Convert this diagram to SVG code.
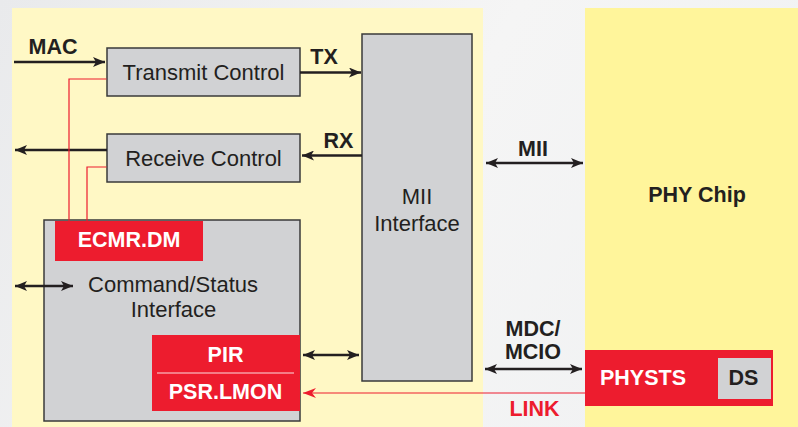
<svg xmlns="http://www.w3.org/2000/svg" width="798" height="427" viewBox="0 0 798 427">
  <defs>
    <linearGradient id="bg" x1="0" y1="0" x2="1" y2="0.3">
      <stop offset="0" stop-color="#e9eaec"/>
      <stop offset="0.6" stop-color="#f5f5f5"/>
      <stop offset="1" stop-color="#f1f2f3"/>
    </linearGradient>
    <marker id="ah" markerUnits="userSpaceOnUse" markerWidth="13" markerHeight="10" refX="12" refY="5" orient="auto-start-reverse" viewBox="0 0 13 10">
      <path d="M0,0 L12,5 L0,10 L3,5 z" fill="#231f20"/>
    </marker>
    <marker id="ahr" markerUnits="userSpaceOnUse" markerWidth="14" markerHeight="10" refX="13" refY="5" orient="auto-start-reverse" viewBox="0 0 14 10">
      <path d="M0,0 L13,5 L0,10 L4,5 z" fill="#ed1c2e"/>
    </marker>
  </defs>
  <style>
    .box { fill: #d1d2d4; stroke: #3a3a3a; stroke-width: 1.5; }
    .red { fill: #ed1c2e; }
    .t { font-family: "Liberation Sans", Arial, sans-serif; font-size: 22px; fill: #231f20; text-anchor: middle; }
    .b { font-family: "Liberation Sans", Arial, sans-serif; font-size: 21.5px; font-weight: bold; fill: #231f20; text-anchor: middle; }
    .w { fill: #ffffff; }
    .rt { fill: #ed1c2e; }
    .arr { stroke: #231f20; stroke-width: 2.5; fill: none; }
    .rl { stroke: #ed1c2e; stroke-width: 1.2; fill: none; }
  </style>

  <rect x="0" y="0" width="798" height="427" fill="url(#bg)"/>
  <rect id="panel-left" x="12" y="8" width="471" height="419" fill="#fff8c5"/>
  <rect id="panel-phy" x="585" y="8" width="213" height="419" fill="#fff59b"/>

  <g id="transmit-control">
    <rect class="box" x="107" y="48" width="193" height="48"/>
    <text class="t" x="203.5" y="80">Transmit Control</text>
  </g>
  <g id="receive-control">
    <rect class="box" x="107" y="134" width="193" height="48"/>
    <text class="t" x="203.5" y="166">Receive Control</text>
  </g>
  <g id="mii-interface">
    <rect class="box" x="362" y="34" width="110" height="347"/>
    <text class="t" x="417" y="204">MII</text>
    <text class="t" x="417" y="231">Interface</text>
  </g>
  <g id="command-status">
    <rect class="box" x="44" y="220" width="256" height="201"/>
    <text class="t" x="173" y="292">Command/Status</text>
    <text class="t" x="173.5" y="317">Interface</text>
  </g>
  <g id="ecmr-dm">
    <rect class="red" x="55" y="221" width="148" height="40"/>
    <text class="b w" x="129" y="247" font-size="22">ECMR.DM</text>
  </g>
  <g id="pir-psr">
    <rect class="red" x="152" y="335" width="148" height="76"/>
    <line x1="157" y1="373" x2="294" y2="373" stroke="#ffffff" stroke-width="1.2" opacity="0.85"/>
    <text class="b w" x="225.5" y="362">PIR</text>
    <text class="b w" x="225.5" y="399" font-size="22">PSR.LMON</text>
  </g>
  <g id="physts">
    <rect class="red" x="585" y="350" width="188" height="56"/>
    <rect x="718" y="358" width="53" height="41" fill="#d1d2d4"/>
    <text class="b w" x="643" y="385">PHYSTS</text>
    <text class="b" x="743.5" y="385">DS</text>
  </g>

  <g id="connectors">
    <line class="arr" x1="14" y1="62" x2="105" y2="62" marker-end="url(#ah)"/>
    <line class="arr" x1="300" y1="72.5" x2="361" y2="72.5" marker-end="url(#ah)"/>
    <line class="arr" x1="362" y1="155.5" x2="302" y2="155.5" marker-end="url(#ah)"/>
    <line class="arr" x1="107" y1="150" x2="15" y2="150" marker-end="url(#ah)"/>
    <line class="arr" x1="486" y1="163" x2="583" y2="163" marker-start="url(#ah)" marker-end="url(#ah)"/>
    <line class="arr" x1="15" y1="286" x2="73" y2="286" marker-start="url(#ah)" marker-end="url(#ah)"/>
    <line class="arr" x1="303" y1="355" x2="359" y2="355" marker-start="url(#ah)" marker-end="url(#ah)"/>
    <line class="arr" x1="485" y1="369" x2="582" y2="369" marker-start="url(#ah)" marker-end="url(#ah)"/>
    <polyline class="rl" points="106.5,79 69,79 69,221"/>
    <polyline class="rl" points="106.5,167 87,167 87,221"/>
    <line class="rl" x1="585" y1="393" x2="303" y2="393" marker-end="url(#ahr)"/>
  </g>

  <g id="labels">
    <text class="b" x="53" y="54">MAC</text>
    <text class="b" x="324" y="64">TX</text>
    <text class="b" x="338.5" y="148">RX</text>
    <text class="b" x="533" y="156" font-size="22">MII</text>
    <text class="b" x="697" y="202">PHY Chip</text>
    <text class="b" x="533" y="336" font-size="21.5">MDC/</text>
    <text class="b" x="533" y="358.5" font-size="21.5">MCIO</text>
    <text class="b rt" x="534.5" y="416" font-size="22">LINK</text>
  </g>
</svg>
